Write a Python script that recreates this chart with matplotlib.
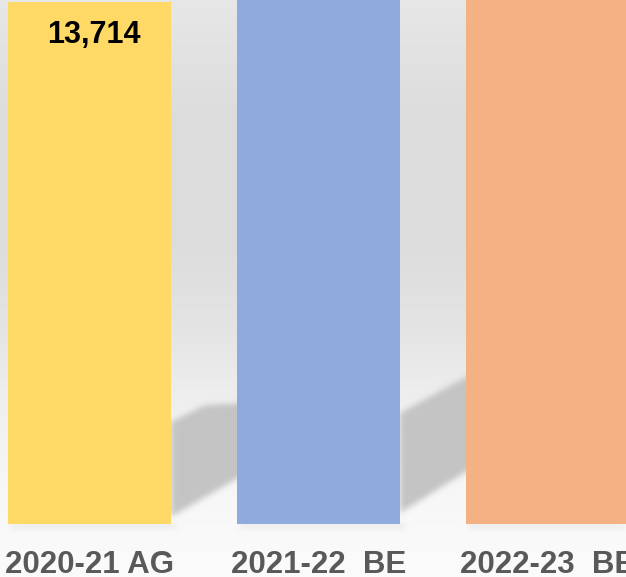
import numpy as np
import matplotlib
matplotlib.use("Agg")
import matplotlib.pyplot as plt
from matplotlib.path import Path

plt.rcParams['font.family'] = ['Liberation Sans', 'DejaVu Sans']

# data
years = ["2020-21 AG", "2021-22  BE", "2022-23  BE"]
values = [13714, 15480, 17300]          # bars 2 and 3 run past the top of the crop
colors = ["#FFD966", "#8FAADC", "#F4B183"]

W, H = 626, 577
fig = plt.figure(figsize=(W / 100, H / 100), dpi=100)

# main axes (bars)
ax = fig.add_axes([0, 53 / H, 1, 524 / H])
ax.set_facecolor("none")
step = 229.0
ax.set_xlim(-89.5 / step, (W - 89.5) / step)
ax.set_ylim(0, values[0] * 524 / 522)
x = np.arange(len(years))
bars = ax.bar(x, values, width=163 / step, color=colors, zorder=3)

for xi, v in zip(x, values):
    ax.annotate(f"{v:,}", xy=(xi, v), xytext=(3, -23.5), textcoords="offset points",
                ha="center", va="center", fontsize=22, fontweight="bold",
                color="black", zorder=4)

ax.set_xticks(x)
ax.set_xticklabels(years, fontsize=22.5, fontweight="bold", color="#595959")
ax.tick_params(axis="x", length=0, pad=18.5)
ax.tick_params(axis="y", left=False, labelleft=False)
for s in ax.spines.values():
    s.set_visible(False)

# background: vertical gradient + soft floor shadows behind the bars
yy = np.arange(H)
grad_pts_y = [0, 120, 250, 330, 380, 410, 480, 524, 577]
grad_pts_v = [231, 220, 221, 228, 236, 240, 246, 249, 251]
col = np.interp(yy, grad_pts_y, grad_pts_v) / 255.0
bg = np.repeat(col[:, None], W, axis=1)

def to_px(xd, yd):
    px, py = ax.transData.transform((xd, yd))
    return px, H - py

gx, gy = np.meshgrid(np.arange(W) + 0.5, np.arange(H) + 0.5)
pts = np.column_stack([gx.ravel(), gy.ravel()])
mask = np.zeros((H, W))

# shadow shapes relative to each bar's right edge (x offset, y in px from top)
shadow_shapes = [
    [(0, 517), (0, 422), (34, 405), (72, 403), (72, 475)],
    [(0, 513), (0, 413), (66, 377), (72, 375), (72, 468)],
]
for b, shape in zip(bars, shadow_shapes):
    xr, _ = to_px(b.get_x() + b.get_width(), 0)
    poly = Path([(xr + dx, yv) for dx, yv in shape])
    mask = np.maximum(mask, poly.contains_points(pts).reshape(H, W).astype(float))

# thin contact shadow under each bar
for b in bars:
    xl, yb = to_px(b.get_x(), 0)
    xr, _ = to_px(b.get_x() + b.get_width(), 0)
    sel = (gx > xl + 2) & (gx < xr + 6) & (gy > yb) & (gy < yb + 4)
    mask = np.maximum(mask, sel * 0.35)

def blur(a, sigma):
    r = int(3 * sigma)
    k = np.exp(-0.5 * (np.arange(-r, r + 1) / sigma) ** 2)
    k /= k.sum()
    a = np.apply_along_axis(lambda m: np.convolve(m, k, mode="same"), 0, a)
    a = np.apply_along_axis(lambda m: np.convolve(m, k, mode="same"), 1, a)
    return a

mask = blur(mask, 3.0)
shadow_val = 196 / 255.0
bg = bg * (1 - mask) + shadow_val * mask

bg_ax = fig.add_axes([0, 0, 1, 1], zorder=-1)
bg_ax.imshow(np.dstack([bg, bg, bg]), extent=(0, W, H, 0), aspect="auto",
             interpolation="nearest")
bg_ax.set_xlim(0, W)
bg_ax.set_ylim(H, 0)
bg_ax.axis("off")

fig.savefig("out.png", dpi=100)
